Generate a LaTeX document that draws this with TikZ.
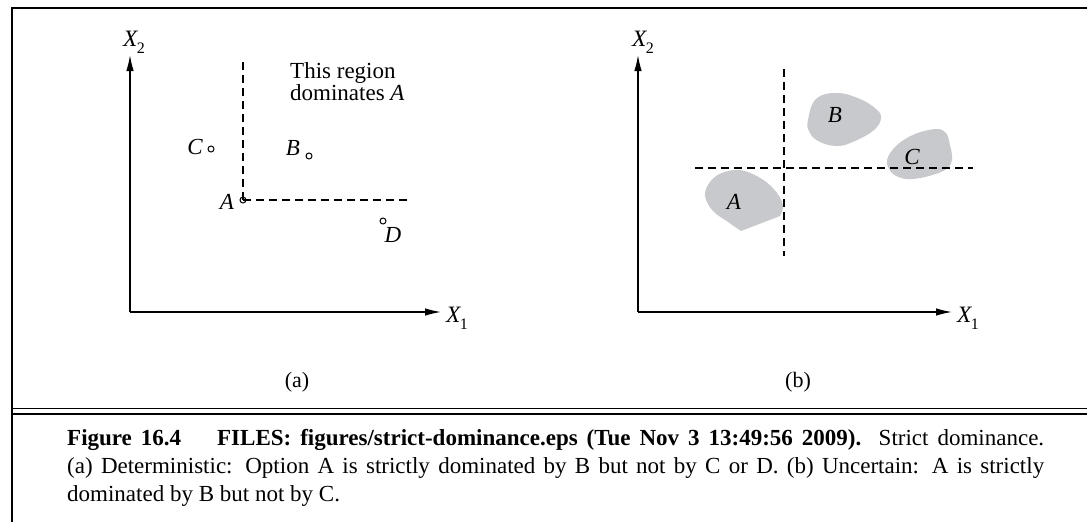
\documentclass[tikz,border=0pt]{standalone}
\usepackage{fontspec}
\setmainfont{Liberation Serif}
\usetikzlibrary{arrows.meta}
\begin{document}
\begin{tikzpicture}[x=1pt,y=-1pt,
  axis/.style={line width=1.3pt,-{Latex[length=16pt,width=7.5pt]}},
  dsh/.style={line width=1.1pt,dash pattern=on 8pt off 5pt},
  pt/.style={circle,draw,line width=1pt,minimum size=6pt,inner sep=0pt},
  lbl/.style={font=\fontsize{23}{23}\selectfont\itshape,inner sep=0pt},
  xlbl/.style={font=\fontsize{23.5}{23.5}\selectfont,inner sep=0pt},
  txt/.style={font=\fontsize{23}{22}\selectfont,inner sep=0pt},
  sub/.style={font=\fontsize{22}{22}\selectfont,inner sep=0pt},
  blob/.style={fill={rgb,255:red,200;green,201;blue,204},draw=none},
  frame/.style={line width=2pt,line join=miter},
  captxt/.style={anchor=base west,inner sep=0pt,font=\fontsize{23}{23}\selectfont}]
\useasboundingbox (0,0) rectangle (1087,522);
\newcommand{\Xlab}[1]{\textit{X}\kern-1.5pt\raisebox{-0.3em}{\fontsize{16}{16}\selectfont #1}}
% frame
\draw[frame] (12,522) -- (12,7.7) -- (1087,7.7);
\draw[line width=1.6pt] (12,408.3) -- (1087,408.3);
\draw[line width=1.6pt] (12,413.7) -- (1087,413.7);
% ---------- panel (a)
\coordinate (oa) at (130,312);
\coordinate (ya) at (130,55);
\coordinate (xa) at (441,312);
\draw[axis] (oa) -- (ya);
\draw[axis] (oa) -- (xa);
\node[xlbl] (x2a) at (134,42) {\Xlab{2}};
\node[xlbl,anchor=west] (x1a) at (446,318) {\Xlab{1}};
\node[pt] (pa) at (243,200) {};
\coordinate (va) at (243,62);
\coordinate (ha) at (409,200);
\draw[dsh] (pa.center) -- (va);
\draw[dsh] (pa.center) -- (ha);
\node[pt] (pc) at (211,149) {};
\node[pt] (pb) at (309,156) {};
\node[pt] (pd) at (383,221) {};
\node[lbl] (la) at (227,202) {A};
\node[lbl] (lc) at (195,147) {C};
\node[lbl] (lb) at (293,148) {B};
\node[lbl] (ld) at (393,235) {D};
\node[txt,anchor=north west,align=left] (reg) at (290,62) {This region\\dominates \textit{A}};
\node[sub] (capa) at (297,382) {(a)};
% ---------- panel (b)
\fill[blob] plot[smooth,tension=0.6] coordinates {(741,231) (728,222) (712,210) (705,193) (716,176) (739,170) (762,179) (777,193) (783,206) (780,216)} -- (741,231) -- cycle;
\fill[blob] plot[smooth cycle,tension=0.7] coordinates {(808,120) (816,99) (837,93) (860,99) (876,109) (881,118) (874,130) (855,141) (837,146) (818,141) (809,131)};
\fill[blob] plot[smooth cycle,tension=0.6] coordinates {(887,160) (897,145) (915,134) (936,129) (946,133) (950,145) (952,160) (945,170) (925,177) (906,179) (892,173)};
\coordinate (ob) at (638,312);
\coordinate (yb) at (638,55);
\coordinate (xb) at (952,312);
\draw[axis] (ob) -- (yb);
\draw[axis] (ob) -- (xb);
\node[xlbl] (x2b) at (643,42) {\Xlab{2}};
\node[xlbl,anchor=west] (x1b) at (957,318) {\Xlab{1}};
\coordinate (vt) at (784,69);
\coordinate (vb) at (784,256);
\coordinate (hl) at (695,168);
\coordinate (hr) at (973,168);
\draw[dsh] (vt) -- (vb);
\draw[dsh] (hl) -- (hr);
\node[lbl] (lba) at (734,202) {A};
\node[lbl] (lbb) at (835,115) {B};
\node[lbl] (lbc) at (912,157) {C};
\node[sub] (capb) at (798,382) {(b)};
% ---------- caption
\node[captxt] (c1) at (67,445) {\makebox[977pt][s]{\textbf{Figure 16.4}\hspace{36pt}\textbf{FILES: figures/strict-dominance.eps (Tue Nov 3 13:49:56 2009).} Strict dominance.}};
\node[captxt] (c2) at (67,473) {\makebox[977pt][s]{(a) Deterministic: Option A is strictly dominated by B but not by C or D. (b) Uncertain: A is strictly}};
\node[captxt] (c3) at (67,501) {dominated by B but not by C.};
\end{tikzpicture}
\end{document}
